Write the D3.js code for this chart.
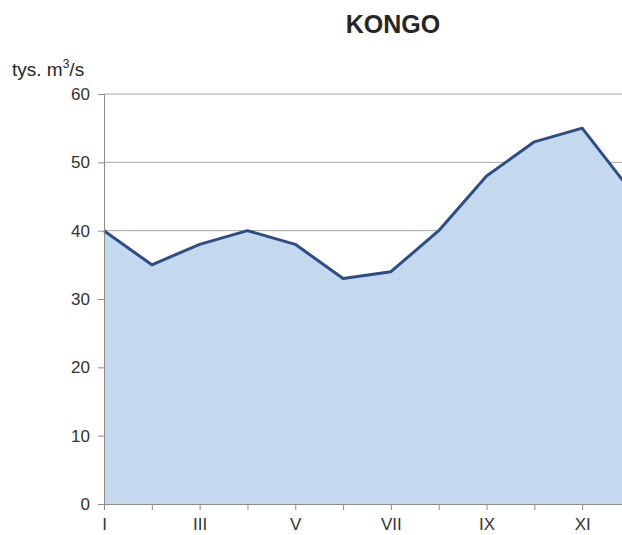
<!DOCTYPE html>
<html>
<head>
<meta charset="utf-8">
<script src="https://cdn.jsdelivr.net/npm/d3@7"></script>
<style>
  body { margin: 0; background: #fff; }
  svg { display: block; font-family: "Liberation Sans", Arial, sans-serif; }
</style>
</head>
<body>
<svg id="chart"></svg>
<script>
const width = 622;
const height = 535;

const months = ['I', 'II', 'III', 'IV', 'V', 'VI', 'VII', 'VIII', 'IX', 'X', 'XI', 'XII'];
const flow = [40, 35, 38, 40, 38, 33, 34, 40, 48, 53, 55, 46];
const yTicks = [0, 10, 20, 30, 40, 50, 60];
const monthLabels = ['I', 'III', 'V', 'VII', 'IX', 'XI'];

const svg = d3.select('#chart')
  .attr('width', width)
  .attr('height', height);

// plot runs past the right edge, as in the reference
const x = d3.scalePoint().domain(months).range([104, 630]);
const y = d3.scaleLinear().domain([0, 60]).range([504, 94]);

// grid lines
svg.append('g')
  .selectAll('line')
  .data(yTicks.filter(d => d > 0))
  .enter().append('line')
  .attr('x1', 104)
  .attr('x2', width)
  .attr('y1', d => y(d))
  .attr('y2', d => y(d))
  .attr('stroke', '#a6a6a6')
  .attr('stroke-width', 1);

const area = d3.area()
  .x((d, i) => x(months[i]))
  .y0(y(0))
  .y1(d => y(d));

const line = d3.line()
  .x((d, i) => x(months[i]))
  .y(d => y(d));

svg.append('path')
  .datum(flow)
  .attr('d', area)
  .attr('fill', '#c5d9ee');

svg.append('path')
  .datum(flow)
  .attr('d', line)
  .attr('fill', 'none')
  .attr('stroke', '#2c4e86')
  .attr('stroke-width', 3)
  .attr('stroke-linejoin', 'round');

// y axis
const yAxis = svg.append('g')
  .attr('transform', 'translate(104,0)')
  .call(d3.axisLeft(y).tickValues(yTicks).tickSize(6).tickPadding(8));
yAxis.select('.domain').attr('stroke', '#8c8c8c');
yAxis.selectAll('.tick line').attr('stroke', '#8c8c8c');
yAxis.selectAll('text').attr('font-size', 17).attr('fill', '#333');

// x axis
const xAxis = svg.append('g')
  .attr('transform', `translate(0,${y(0)})`)
  .call(d3.axisBottom(x)
    .tickSize(6)
    .tickPadding(8)
    .tickFormat(d => monthLabels.includes(d) ? d : ''));
xAxis.select('.domain').attr('stroke', '#8c8c8c');
xAxis.selectAll('.tick line').attr('stroke', '#8c8c8c');
xAxis.selectAll('text').attr('font-size', 17).attr('fill', '#333');

// title
svg.append('text')
  .attr('x', 393)
  .attr('y', 33)
  .attr('text-anchor', 'middle')
  .attr('font-size', 25)
  .attr('font-weight', 'bold')
  .attr('fill', '#262626')
  .text('KONGO');

// unit label
const unit = svg.append('text')
  .attr('x', 12)
  .attr('y', 76)
  .attr('font-size', 19)
  .attr('fill', '#262626');
unit.append('tspan').text('tys. m');
unit.append('tspan').attr('font-size', 12).attr('dy', -8).text('3');
unit.append('tspan').attr('dy', 8).text('/s');
</script>
</body>
</html>
